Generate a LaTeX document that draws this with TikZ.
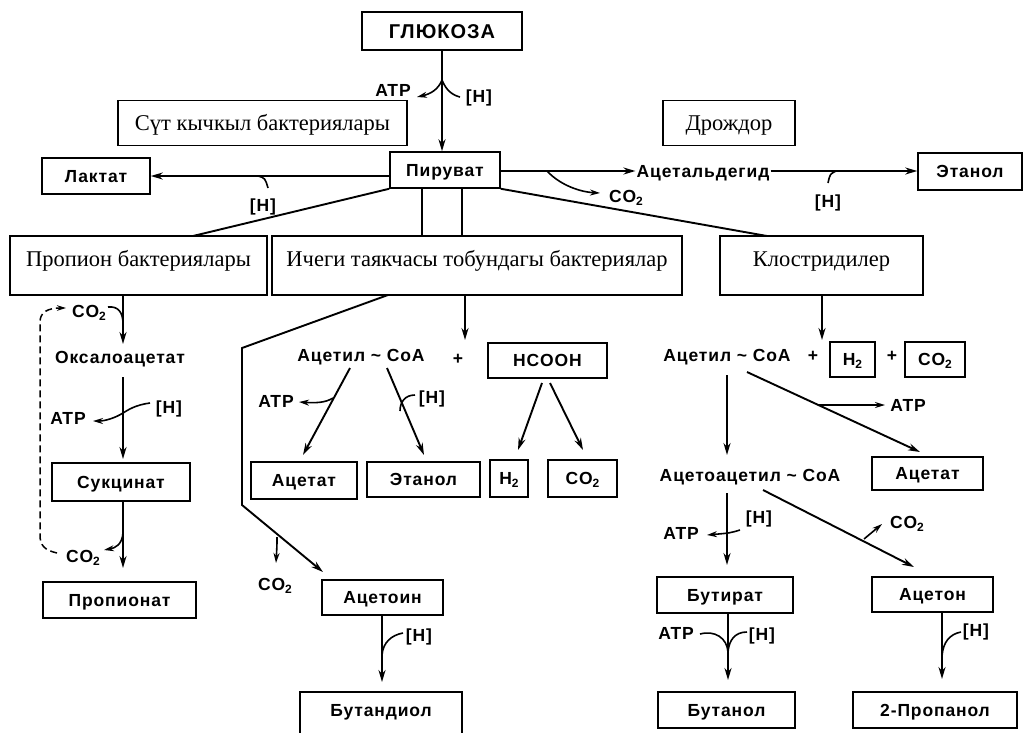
\documentclass[tikz,border=0pt]{standalone}
\usepackage{fontspec}
\setmainfont{Liberation Serif}
\newfontfamily\sansf{Liberation Sans}[LetterSpace=5]
\usetikzlibrary{arrows.meta}
\newcommand\lb{\sansf\bfseries\fontsize{17.5}{20}\selectfont}
\newcommand\lbw{\sansf\bfseries\fontsize{20}{22}\selectfont}
\newcommand\sr{\rmfamily\fontsize{22.5}{26}\selectfont}
\newcommand\sbs[1]{\raisebox{-0.35ex}{\fontsize{12}{12}\selectfont #1}}
\begin{document}
\begin{tikzpicture}[x=1pt,y=-1pt,
 box/.style={draw,line width=1.5pt,inner sep=0pt,font=\lb,text height=12.5pt,text depth=0pt},
 grp/.style={draw,line width=1.1pt,inner sep=0pt,font=\sr,text height=15pt,text depth=0pt},
 txt/.style={inner sep=1pt,font=\lb,text height=12.5pt,text depth=0pt},
 stxt/.style={inner sep=0pt,font=\sr,text height=15pt,text depth=0pt},
 arr/.style={line width=1.9pt,-{Stealth[length=12pt,width=7pt]}},
 sarr/.style={line width=1.6pt,-{Stealth[length=10pt,width=6pt]}},
 ln/.style={line width=1.9pt},
 thn/.style={line width=1.6pt},
 dsh/.style={line width=1.5pt,dash pattern=on 7pt off 4pt,-{Stealth[length=9pt,width=5.5pt]}}]
\useasboundingbox (0,0) rectangle (1027,732);
\clip (0,0) rectangle (1027,732);
\fill[white] (0,0) rectangle (1027,732);
% boxes
\node[box,minimum width=160,minimum height=38,font=\lbw,text height=14pt] (glu) at (442,31) {ГЛЮКОЗА};
\node[grp,minimum width=289,minimum height=45] (sut) at (262.5,123) {Сүт кычкыл бактериялары};
\node[grp,minimum width=132,minimum height=45] (dro) at (729,123) {Дрождор};
\node[box,minimum width=110,minimum height=36] (pyr) at (445,170) {Пируват};
\node[box,minimum width=108,minimum height=36] (lac) at (96,176) {Лактат};
\node[box,minimum width=104,minimum height=37] (eth1) at (970,171.5) {Этанол};
\node[grp,minimum width=257,minimum height=59] (prg) at (138.5,265.5) {};
\node[stxt] (prt) at (138.5,259) {Пропион бактериялары};
\node[grp,minimum width=410,minimum height=59] (icg) at (477,265.5) {};
\node[stxt] (ict) at (477,259) {Ичеги таякчасы тобундагы бактериялар};
\node[grp,minimum width=203,minimum height=59] (klg) at (821.5,265.5) {};
\node[stxt] (klt) at (821.5,259) {Клостридилер};
\node[box,minimum width=138,minimum height=38] (suc) at (121,482) {Сукцинат};
\node[box,minimum width=153,minimum height=36] (pro) at (119.5,600) {Пропионат};
\node[box,minimum width=119,minimum height=35] (hco) at (547.5,360.5) {HCOOH};
\node[box,minimum width=106,minimum height=37] (ac1) at (304,480.5) {Ацетат};
\node[box,minimum width=113,minimum height=35] (et2) at (423.5,479.5) {Этанол};
\node[box,minimum width=38,minimum height=37] (h2a) at (509,478.5) {H\sbs{2}};
\node[box,minimum width=69,minimum height=37] (co2a) at (582.5,478.5) {CO\sbs{2}};
\node[box,minimum width=121,minimum height=35] (ato) at (382.5,597.5) {Ацетоин};
\node[box,minimum width=162,minimum height=50] (btd) at (381,717) {};
\node[txt] (btdt) at (381,710) {Бутандиол};
\node[box,minimum width=45,minimum height=35] (h2b) at (852.5,359.5) {H\sbs{2}};
\node[box,minimum width=60,minimum height=35] (co2b) at (935,359.5) {CO\sbs{2}};
\node[box,minimum width=111,minimum height=33] (ac2) at (927.5,473.5) {Ацетат};
\node[box,minimum width=136,minimum height=36] (but) at (725,595) {Бутират};
\node[box,minimum width=121,minimum height=35] (acn) at (932.5,594.5) {Ацетон};
\node[box,minimum width=137,minimum height=36] (btn) at (726.5,710) {Бутанол};
\node[box,minimum width=164,minimum height=36] (ppl) at (935,710) {2-Пропанол};
% glucose -> pyruvate
\draw[arr] (glu.south) -- (glu.south |- pyr.north);
\draw[sarr] (442,80) .. controls (438,90) and (430,94) .. (417,97);
\draw[thn] (442,80) .. controls (446,90) and (452,95) .. (460,97);
\node[txt] (atp0) at (393,90) {ATP};
\node[txt] (h0) at (479,96) {[H]};
% pyruvate -> lactate
\draw[arr] (pyr.west |- lac.east) -- (lac.east);
\draw[thn] (258,176) .. controls (265,178) .. (268,188);
\node[txt] (h1) at (263,205) {[H]};
% pyruvate -> acetaldehyde -> ethanol
\node[txt] (ald) at (703,171) {Ацетальдегид};
\draw[arr] (pyr.east |- ald.west) -- (ald.west);
\draw[sarr] (547,171) .. controls (560,185) and (580,192) .. (600,193);
\node[txt] (co2p) at (626,196) {CO\sbs{2}};
\draw[arr] (ald.east) -- (ald.east -| eth1.west);
\draw[thn] (836,171) .. controls (830,174) .. (828,183);
\node[txt] (h2) at (828,201) {[H]};
% pyruvate to groups
\draw[ln] (pyr.south west) -- (193,236);
\draw[ln] (422,188) -- (422,236);
\draw[ln] (462,188) -- (462,236);
\draw[ln] (pyr.south east) -- (767,236);
% propion
\node[txt] (oxa) at (120,357) {Оксалоацетат};
\draw[arr] (123,295) -- (123,344);
\node[txt] (co2t) at (89,311) {CO\sbs{2}};
\draw[thn] (108,307) .. controls (118,306) and (123,312) .. (123,324);
\draw[dsh] (57,553) .. controls (44,550) and (40,545) .. (40,535) -- (40,322) .. controls (40,312) and (48,308) .. (66,308);
\draw[arr] (123,377) -- (123,459);
\draw[sarr] (150,403) .. controls (135,405) and (128,410) .. (123,413) .. controls (115,418) and (105,421) .. (93,421);
\node[txt] (atp2) at (68,418) {ATP};
\node[txt] (h3) at (169,407) {[H]};
\draw[arr] (123,501) -- (123,568);
\draw[sarr] (123,533) .. controls (122,545) and (115,548) .. (104,550);
\node[txt] (co2l) at (83,556) {CO\sbs{2}};
% enteric
\draw[arr] (388,295) -- (242,348) -- (242,505) -- (323,572);
\draw[sarr] (277,537) .. controls (277,545) .. (276,563);
\node[txt] (co2c) at (275,584) {CO\sbs{2}};
\draw[arr] (465,295) -- (465,340);
\node[txt] (acoa1) at (361,355) {Ацетил \textasciitilde{} CoA};
\node[txt] (pl1) at (458,358) {+};
\draw[arr] (350,368) -- (303,455);
\draw[sarr] (333,398) .. controls (325,403) and (315,403) .. (299,402);
\node[txt] (atp3) at (276,401) {ATP};
\draw[arr] (387,368) -- (424,455);
\draw[thn] (415,395) .. controls (405,395) and (400,402) .. (400,411);
\node[txt] (h4) at (432,397) {[H]};
\draw[arr] (542,383) -- (518,450);
\draw[arr] (550,383) -- (583,450);
\draw[arr] (ato.south -| 382,0) -- (382,682);
\draw[thn] (403,633) .. controls (392,635) and (383,642) .. (382,655);
\node[txt] (h5) at (419,635) {[H]};
% clostridia
\draw[arr] (822,295) -- (822,340);
\node[txt] (acoa2) at (727,355) {Ацетил \textasciitilde{} CoA};
\node[txt] (pl2) at (813,355) {+};
\node[txt] (pl3) at (892,355) {+};
\draw[arr] (727,375) -- (727,455);
\draw[arr] (747,372) -- (920,452);
\draw[sarr] (818,405) -- (885,405);
\node[txt] (atp4) at (908,405) {ATP};
\node[txt] (aac) at (750,475) {Ацетоацетил \textasciitilde{} CoA};
\draw[arr] (727,493) -- (727,565);
\draw[sarr] (740,530) .. controls (730,533) .. (707,535);
\node[txt] (atp5) at (681,533) {ATP};
\node[txt] (h6) at (759,517) {[H]};
\draw[arr] (763,490) -- (914,567);
\draw[sarr] (864,539) -- (882,524);
\node[txt] (co2d) at (907,522) {CO\sbs{2}};
\draw[arr] (728,613) -- (728,680);
\draw[thn] (700,634) .. controls (715,630) and (727,638) .. (728,652);
\draw[thn] (747,632) .. controls (735,632) and (729,640) .. (728,652);
\node[txt] (atp6) at (676,633) {ATP};
\node[txt] (h7) at (762,634) {[H]};
\draw[arr] (942,612) -- (942,679);
\draw[thn] (961,632) .. controls (950,634) and (943,642) .. (942,656);
\node[txt] (h8) at (976,630) {[H]};
\end{tikzpicture}
\end{document}
